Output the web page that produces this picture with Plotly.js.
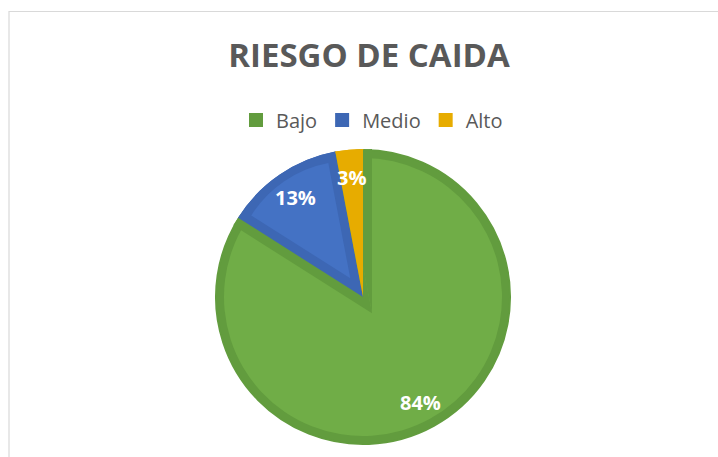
<!DOCTYPE html>
<html><head><meta charset="utf-8">
<script src="https://cdn.plot.ly/plotly-3.0.1.min.js"></script>
<style>html,body{margin:0;padding:0;overflow:hidden;width:718px;height:457px;background:#fff}#chart{width:718px;height:540px}</style>
</head><body><div id="chart"></div>
<script>
// ---- data ----
const labels = ['Bajo', 'Medio', 'Alto'];
const values = [84, 13, 3];
const fillColors = ['#70AD47', '#4472C4', '#E7AC00'];
const edgeColors = ['#629C3E', '#3D67B4', '#E7AC00'];
const titleText = 'RIESGO DE CAIDA';

// ---- geometry (layout only) ----
const W = 718, H = 540;          // plot div is taller than the window; bottom is cropped
const CX = 363, CY = 297, R = 148, BW = 9;
const NONE = 'rgba(0,0,0,0)';

const total = values.reduce((a, b) => a + b, 0);
const ang = []; let acc = 0;
values.forEach(v => { const a0 = acc / total * 360; acc += v; ang.push([a0, acc / total * 360]); });
const rad = d => d * Math.PI / 180;
const dirOf = deg => [Math.sin(rad(deg)), -Math.cos(rad(deg))];
function dom(cx, cy, r) { return { x: [(cx - r) / W, (cx + r) / W], y: [(H - cy - r) / H, (H - cy + r) / H] }; }
function pie(colors, cx, cy, r, extra) {
  return Object.assign({
    type: 'pie', labels: labels, values: values, sort: false, direction: 'clockwise', rotation: 0,
    textinfo: 'none', hoverinfo: 'skip', showlegend: false,
    marker: { colors: colors, line: { width: 0 } }, domain: dom(cx, cy, r)
  }, extra || {});
}

// green (first slice) inner border at the gap: shifted copy of the other slices
const gSpan = ang[0][1] - ang[0][0];
const gMid = (ang[0][0] + ang[0][1]) / 2;
const gapHalf = (360 - gSpan) / 2;
const dG = BW / Math.sin(rad(gapHalf));
const uG = dirOf(gMid);
const rhoG = R + Math.cos(rad(gapHalf)) * dG;

// blue inset
const bMid = (ang[1][0] + ang[1][1]) / 2, bHalf = (ang[1][1] - ang[1][0]) / 2;
const dB = BW / Math.sin(rad(bHalf));
const uB = dirOf(bMid);
const rhoB = R - BW - dB * (1 + Math.cos(rad(bHalf))) / 2;

const traces = [
  pie(edgeColors, CX, CY, R - 1, { showlegend: true, marker: { colors: edgeColors, line: { width: 2, color: edgeColors } } }),
  pie([fillColors[0], fillColors[0], fillColors[0]], CX, CY, R - BW),
  pie([NONE, edgeColors[0], edgeColors[0]], CX + dG * uG[0], CY + dG * uG[1], rhoG),
  pie([NONE, edgeColors[1], edgeColors[2]], CX, CY, R),
  pie([NONE, fillColors[1], NONE], CX + dB * uB[0], CY + dB * uB[1], rhoB)
];

// percent labels along slice bisectors
const annotations = values.map((v, i) => {
  const mid = (ang[i][0] + ang[i][1]) / 2; const u = dirOf(mid); const rr = 0.81 * R;
  return {
    xref: 'paper', yref: 'paper', x: (CX + rr * u[0]) / W, y: (H - (CY + rr * u[1])) / H,
    text: Math.round(v / total * 100) + '%', showarrow: false, xanchor: 'center', yanchor: 'middle',
    font: { family: 'Open Sans, sans-serif', size: 20, color: '#ffffff', weight: 'bold' }
  };
});

const layout = {
  width: W, height: H, margin: { l: 0, r: 0, t: 0, b: 0 },
  paper_bgcolor: '#ffffff', plot_bgcolor: '#ffffff',
  title: { text: '<b>' + titleText + '</b>', x: 369 / W, y: (H - 55) / H, xanchor: 'center', yanchor: 'middle',
    font: { family: 'Open Sans, sans-serif', size: 33, color: '#595959' } },
  legend: { orientation: 'h', x: 372 / W, y: (H - 120) / H, xanchor: 'center', yanchor: 'middle',
    font: { family: 'Open Sans, sans-serif', size: 20, color: '#595959' }, itemwidth: 30 },
  annotations: annotations,
  shapes: [{ type: 'rect', xref: 'paper', yref: 'paper', x0: 9 / W, x1: 1.02, y0: -0.02, y1: (H - 11.5) / H,
    line: { color: '#D9D9D9', width: 1.2 }, fillcolor: 'rgba(0,0,0,0)', layer: 'below' }]
};

Plotly.newPlot('chart', traces, layout, { displayModeBar: false, staticPlot: true });
</script></body></html>
